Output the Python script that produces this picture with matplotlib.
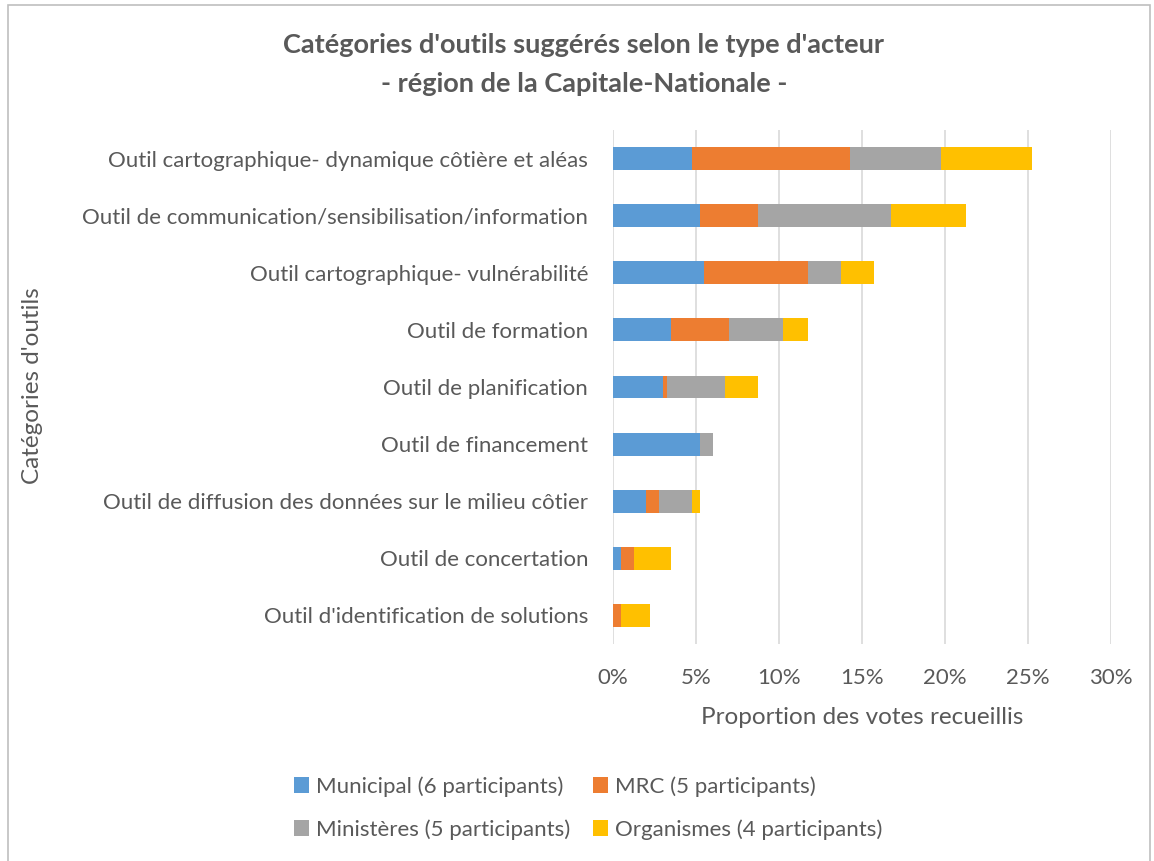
import matplotlib
matplotlib.use("Agg")
import matplotlib.pyplot as plt
from matplotlib.patches import Rectangle
import numpy as np

categories = [
    "Outil cartographique- dynamique côtière et aléas",
    "Outil de communication/sensibilisation/information",
    "Outil cartographique- vulnérabilité",
    "Outil de formation",
    "Outil de planification",
    "Outil de financement",
    "Outil de diffusion des données sur le milieu côtier",
    "Outil de concertation",
    "Outil d'identification de solutions",
]
municipal = [4.74, 5.24, 5.50, 3.47, 2.99, 5.24, 1.97, 0.48, 0.00]
mrc = [9.52, 3.47, 6.23, 3.54, 0.26, 0.00, 0.78, 0.76, 0.48]
ministeres = [5.48, 8.06, 2.03, 3.23, 3.50, 0.76, 1.99, 0.00, 0.00]
organismes = [5.52, 4.47, 1.98, 1.51, 1.98, 0.00, 0.52, 2.25, 1.77]
series_names = ["Municipal (6 participants)", "MRC (5 participants)",
                "Ministères (5 participants)", "Organismes (4 participants)"]
colors = ["#5B9BD5", "#ED7D31", "#A5A5A5", "#FFC000"]
xticks = [0, 5, 10, 15, 20, 25, 30]

plt.rcParams['font.family'] = ['Lato', 'DejaVu Sans']
txt = "#595959"

fig = plt.figure(figsize=(11.54, 8.61), dpi=100)
fig.patches.append(Rectangle((8/1154, -0.01), (1150-8)/1154, 1-5/861+0.01,
                             transform=fig.transFigure, fill=False,
                             edgecolor="#BFBFBF", linewidth=1.2))
ax = fig.add_axes([613/1154, 1-644/861, (1111-613)/1154, (644-130)/861])

y = np.arange(len(categories))
left = np.zeros(len(categories))
handles = []
for vals, name, c in zip([municipal, mrc, ministeres, organismes], series_names, colors):
    v = np.array(vals)
    h = ax.barh(y, v, left=left, height=0.4, color=c, label=name, zorder=3)
    handles.append(h)
    left += v

ax.set_ylim(len(categories) - 0.5, -0.5)
ax.set_xlim(0, 30)
ax.set_xticks(xticks)
ax.set_xticklabels([f"{t}%" for t in xticks])
ax.set_yticks(y)
ax.set_yticklabels(categories)
ax.grid(axis='x', color="#D9D9D9", linewidth=1.2, zorder=0)
for s in ['top', 'right', 'bottom', 'left']:
    ax.spines[s].set_visible(False)
ax.tick_params(axis='both', length=0, colors=txt, labelsize=16)
ax.tick_params(axis='y', pad=18)
ax.tick_params(axis='x', pad=17)

ax.set_xlabel("Proportion des votes recueillis", fontsize=17.5, color=txt, labelpad=14)
fig.text(33/1154, 1-386/861, "Catégories d'outils", rotation=90, fontsize=17.5,
         color=txt, ha='center', va='center')

fig.text(584/1154, 1-45/861, "Catégories d'outils suggérés selon le type d'acteur",
         fontsize=19.5, fontweight='bold', color=txt, ha='center', va='center')
fig.text(584/1154, 1-84/861, "- région de la Capitale-Nationale -",
         fontsize=19.5, fontweight='bold', color=txt, ha='center', va='center')

order = [0, 2, 1, 3]
leg = fig.legend(handles=[handles[i] for i in order],
                 labels=[series_names[i] for i in order], ncol=2,
                 loc='center', bbox_to_anchor=(588/1154, 1-808/861),
                 frameon=False, fontsize=16, handlelength=0.7, handleheight=0.7,
                 handletextpad=0.3, columnspacing=1.0, labelspacing=1.0)
for t in leg.get_texts():
    t.set_color(txt)

fig.savefig("out.png", dpi=100)
